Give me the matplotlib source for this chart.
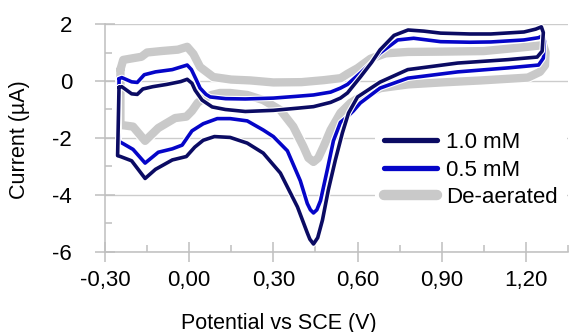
import numpy as np
import matplotlib
matplotlib.use("Agg")
import matplotlib.pyplot as plt
import matplotlib.patheffects as pe

plt.rcParams['font.family'] = ['Liberation Sans', 'DejaVu Sans']

# 1.0 mM: forward branch (left -> right), then return branch (right -> left)
mM10_fwd_x = [-0.250, -0.240, -0.205, -0.185, -0.165, -0.130, -0.080, -0.030, -0.007, 0.010,
              0.021, 0.046, 0.082, 0.129, 0.200, 0.300, 0.390, 0.443, 0.504, 0.539,
              0.564, 0.610, 0.650, 0.680, 0.730, 0.780, 0.836, 0.896, 1.000, 1.075,
              1.193, 1.235, 1.255]
mM10_fwd_y = [-0.22, -0.20, -0.45, -0.47, -0.28, -0.20, -0.12, -0.02, 0.06, -0.08,
              -0.32, -0.67, -0.91, -1.00, -1.07, -1.03, -0.95, -0.90, -0.75, -0.60,
              -0.42, 0.14, 0.65, 1.09, 1.60, 1.79, 1.75, 1.68, 1.65, 1.65,
              1.72, 1.82, 1.90]
mM10_rev_x = [1.262, 1.258, 1.240, 1.136, 0.957, 0.779, 0.680, 0.600, 0.568, 0.546,
              0.521, 0.496, 0.475, 0.458, 0.443, 0.430, 0.421, 0.386, 0.325, 0.264,
              0.207, 0.146, 0.090, 0.050, 0.020, -0.010, -0.060, -0.120, -0.157, -0.205,
              -0.245, -0.255, -0.250]
mM10_rev_y = [1.70, 1.05, 0.84, 0.75, 0.63, 0.40, -0.04, -0.56, -1.12, -1.82,
              -2.77, -3.82, -4.88, -5.50, -5.72, -5.55, -5.33, -4.42, -3.23, -2.53,
              -2.18, -1.98, -1.95, -2.08, -2.32, -2.65, -2.77, -3.10, -3.42, -2.80,
              -2.65, -2.62, -0.22]

# 0.5 mM
mM05_fwd_x = [-0.250, -0.240, -0.205, -0.185, -0.160, -0.120, -0.060, -0.007, 0.008, 0.025,
              0.039, 0.060, 0.075, 0.130, 0.200, 0.300, 0.380, 0.443, 0.504, 0.539,
              0.564, 0.610, 0.650, 0.680, 0.743, 0.800, 0.896, 1.000, 1.075, 1.193,
              1.245, 1.262]
mM05_fwd_y = [0.08, 0.12, -0.03, -0.05, 0.22, 0.32, 0.40, 0.56, 0.40, 0.05,
              -0.25, -0.47, -0.56, -0.62, -0.63, -0.60, -0.54, -0.49, -0.39, -0.25,
              -0.12, 0.28, 0.65, 0.98, 1.44, 1.50, 1.38, 1.36, 1.37, 1.44,
              1.52, 1.60]
mM05_rev_x = [1.266, 1.262, 1.245, 1.136, 0.957, 0.779, 0.680, 0.610, 0.585, 0.564,
              0.539, 0.514, 0.493, 0.468, 0.455, 0.443, 0.432, 0.421, 0.396, 0.350,
              0.300, 0.264, 0.207, 0.146, 0.100, 0.050, 0.010, -0.025, -0.060, -0.110,
              -0.157, -0.200, -0.235, -0.250, -0.250]
mM05_rev_y = [1.40, 0.80, 0.56, 0.46, 0.32, 0.10, -0.25, -0.77, -1.05, -1.25,
              -1.45, -2.10, -3.08, -4.20, -4.52, -4.63, -4.52, -4.30, -3.50, -2.45,
              -1.95, -1.72, -1.40, -1.32, -1.32, -1.50, -1.75, -2.25, -2.38, -2.50,
              -2.88, -2.40, -2.20, -2.12, 0.08]

# De-aerated
deair_fwd_x = [-0.245, -0.235, -0.200, -0.170, -0.150, -0.100, -0.040, -0.007, 0.015, 0.039,
               0.086, 0.150, 0.218, 0.300, 0.400, 0.480, 0.540, 0.564, 0.600, 0.646,
               0.700, 0.780, 0.900, 1.050, 1.207, 1.262]
deair_fwd_y = [0.40, 0.74, 0.80, 0.85, 1.00, 1.05, 1.10, 1.20, 0.95, 0.49,
               0.14, 0.05, 0.02, -0.05, -0.04, 0.03, 0.10, 0.25, 0.45, 0.78,
               0.97, 1.02, 1.03, 1.05, 1.20, 1.26]
deair_rev_x = [1.270, 1.268, 1.250, 1.207, 1.040, 0.900, 0.780, 0.682, 0.621, 0.575,
               0.539, 0.504, 0.479, 0.460, 0.443, 0.425, 0.407, 0.371, 0.325, 0.264,
               0.207, 0.146, 0.110, 0.080, 0.050, 0.030, 0.010, -0.010, -0.050, -0.110,
               -0.157, -0.200, -0.245, -0.245]
deair_rev_y = [1.00, 0.55, 0.32, 0.12, 0.02, -0.05, -0.12, -0.25, -0.49, -0.77,
               -1.12, -1.72, -2.30, -2.70, -2.84, -2.70, -2.30, -1.60, -1.02, -0.67,
               -0.49, -0.42, -0.42, -0.49, -0.62, -0.77, -1.05, -1.25, -1.30, -1.65,
               -2.10, -1.60, -1.54, 0.40]

labels = ['1.0 mM', '0.5 mM', 'De-aerated']
colors = ['#0b0b63', '#0505c8', '#c9c9c9']

xticks = [-0.30, 0.00, 0.30, 0.60, 0.90, 1.20]
xticklabels = ['-0,30', '0,00', '0,30', '0,60', '0,90', '1,20']
xminor = [-0.15, 0.15, 0.45, 0.75, 1.05, 1.35]
yticks = [2, 0, -2, -4, -6]
yminor = [1, -1, -3, -5]

fig = plt.figure(figsize=(5.73, 3.32), dpi=100)
ax = fig.add_axes([0.1832, 0.2410, 0.8081, 0.6867])

series = [
    (deair_fwd_x + deair_rev_x, deair_fwd_y + deair_rev_y, 2, 6.0),
    (mM05_fwd_x + mM05_rev_x, mM05_fwd_y + mM05_rev_y, 1, 2.6),
    (mM10_fwd_x + mM10_rev_x, mM10_fwd_y + mM10_rev_y, 0, 2.6),
]
lines = {}
for xs, ys, i, lw in series:
    ln, = ax.plot(xs, ys, color=colors[i], lw=lw, label=labels[i],
                  solid_joinstyle='round', solid_capstyle='round',
                  path_effects=[pe.Stroke(linewidth=lw + 1.6, foreground='white'),
                                pe.Normal()])
    lines[i] = ln

ax.set_xlim(-0.30, 1.35)
ax.set_ylim(-6, 2)
ax.set_xticks(xticks)
ax.set_xticklabels(xticklabels)
ax.set_xticks(xminor, minor=True)
ax.set_yticks(yticks)
ax.set_yticklabels([str(v) for v in yticks])
ax.set_yticks(yminor, minor=True)

grey = '#bfbfbf'
for s in ['top', 'right']:
    ax.spines[s].set_visible(False)
for s in ['left', 'bottom']:
    ax.spines[s].set_color(grey)
    ax.spines[s].set_linewidth(1.1)

ax.tick_params(axis='x', which='major', direction='inout', length=14.4, width=1.1,
               color=grey, pad=6.0, labelsize=16)
ax.tick_params(axis='y', which='major', direction='inout', length=14.4, width=1.1,
               color=grey, pad=16.5, labelsize=16)
ax.tick_params(which='minor', direction='in', length=5, width=1.1, color=grey)
ax.yaxis.grid(True, which='major', color='#cccccc', lw=1.0)
ax.set_axisbelow(True)

leg = ax.legend([lines[0], lines[1], lines[2]], labels, loc='upper left',
                bbox_to_anchor=(375 / 573, 1 - 123 / 332), bbox_transform=fig.transFigure,
                borderaxespad=0, frameon=True, fancybox=False, fontsize=16,
                handlelength=2.4, handletextpad=0.4, labelspacing=0.3, borderpad=0.4)
leg.get_frame().set_edgecolor('none')
leg.get_frame().set_facecolor('white')
leg.get_frame().set_alpha(1)
for h, w in zip(leg.legend_handles, [3.8, 3.8, 7.5]):
    h.set_linewidth(w)
    h.set_path_effects([])

fig.text(279 / 573, 1 - 323 / 332, 'Potential vs SCE (V)', ha='center', va='center',
         fontsize=15.5)
fig.text(20 / 573, 1 - 140 / 332, 'Current (µA)', ha='center', va='center',
         rotation=90, fontsize=15.5)

fig.savefig('out.png', dpi=100)
